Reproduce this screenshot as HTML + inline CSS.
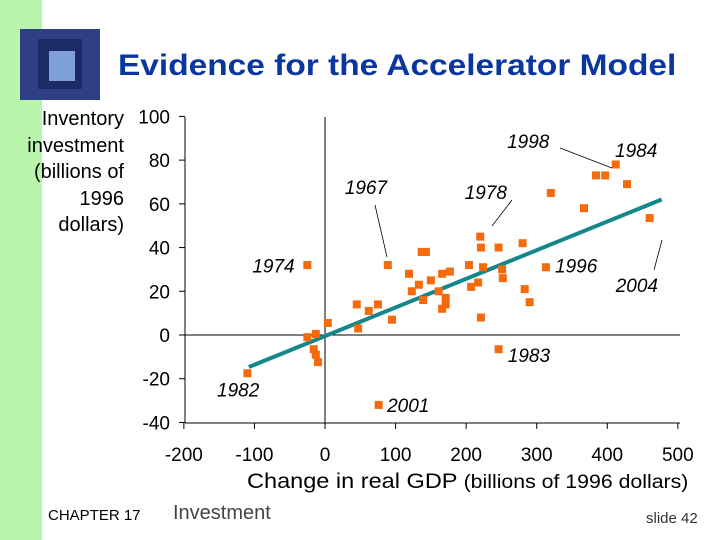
<!DOCTYPE html>
<html><head><meta charset="utf-8"><style>
body{margin:0;width:720px;height:540px;overflow:hidden;background:#fff;font-family:"Liberation Sans",sans-serif;position:relative}
.a{position:absolute}
</style></head><body>
<div class="a" style="left:0;top:0;width:42px;height:540px;background:#b9f5aa"></div>
<div class="a" style="left:20px;top:29px;width:80px;height:71px;background:#2e3f86">
 <div class="a" style="left:18px;top:10px;width:44px;height:50px;background:#1c2a66"></div>
 <div class="a" style="left:29px;top:22px;width:26px;height:30px;background:#7f9fd8"></div>
</div>
<div class="a" style="left:118px;top:49px;font-size:30px;font-weight:bold;color:#0a36a0;white-space:nowrap;transform:scaleX(1.115);transform-origin:left">Evidence for the Accelerator Model</div>
<div class="a" style="left:0;top:106px;width:124px;text-align:right;font-size:20px;line-height:26.5px">Inventory<br>investment<br>(billions of<br>1996<br>dollars)</div>
<div class="a" style="left:247px;top:470px;font-size:21px;white-space:nowrap;transform:scaleX(1.12);transform-origin:left">Change in real GDP <span style="font-size:19px">(billions of 1996 dollars)</span></div>
<div class="a" style="left:48px;top:507px;font-size:15px">CHAPTER 17</div>
<div class="a" style="left:173px;top:502px;font-size:20px;color:#444">Investment</div>
<div class="a" style="left:646px;top:510px;font-size:15px;color:#333">slide 42</div>
<svg class="a" style="left:0;top:0" width="720" height="540" id="ch"></svg>
<script>
const xTicks=[-200,-100,0,100,200,300,400,500];
const yTicks=[100,80,60,40,20,0,-20,-40];
const gdpChange=[-25,89,220,221,137,143,119,204,224,177,166,150,133,123,139,161,171,171,166,217,207,221,45,62,75,95,47,4,-13,-25,-16,-13,-10,-110,246,251,252,280,283,290,313,320,367,384,397,412,428,460,246,76];
const invest=[32,32,45,40,38,38,28,32,31,29,28,25,23,20,16,20,17,14,12,24,22,8,14,11,14,7,3,5.5,0.5,-1,-6.5,-9,-12.4,-17.5,40,30,26,42,21,15,31,65,58,73,73,78,69,53.5,-6.5,-32];
const trendX=[-108,477];
const trendIntercept=-0.5, trendSlope=0.131;
const yearLabels=["1998","1984","1967","1978","1974","1996","2004","1983","1982","2001"];
const yearLabelX=[258,411,28,198,-103,326,412,259,-153,88];
const yearLabelY=[88.7,84.6,67.7,65.4,31.9,31.9,22.9,-9.1,-25,-32];
const X=v=>325+v*0.7057, Y=v=>335+(-v)*2.186;
const s=document.getElementById('ch'),NS='http://www.w3.org/2000/svg';
function mk(t,a){const e=document.createElementNS(NS,t);for(const k in a)e.setAttribute(k,a[k]);s.appendChild(e);return e;}
let e;
e=mk('line',{x1:185,y1:117,x2:185,y2:423,stroke:'#000'});


e=mk('line',{x1:185,y1:423,x2:680,y2:423,stroke:'#000'});


e=mk('line',{x1:X(0),y1:117,x2:X(0),y2:423,stroke:'#000'});


e=mk('line',{x1:185,y1:Y(0),x2:680,y2:Y(0),stroke:'#000'});


xTicks.forEach(v=>{mk('line',{x1:X(v),y1:423,x2:X(v),y2:429,stroke:'#000'});
 e=mk('text',{x:X(v),y:461,'text-anchor':'middle','font-size':19,'font-family':'Liberation Sans'});e.textContent=v;
 
 });
yTicks.forEach(v=>{mk('line',{x1:179,y1:Y(v),x2:185,y2:Y(v),stroke:'#000'});
 e=mk('text',{x:170,y:Y(v)+7,'text-anchor':'end','font-size':19,'font-family':'Liberation Sans'});e.textContent=v;
 
 });
e=mk('line',{x1:X(trendX[0]),y1:Y(trendIntercept+trendSlope*trendX[0]),x2:X(trendX[1]),y2:Y(trendIntercept+trendSlope*trendX[1]),stroke:'#14878a','stroke-width':4});


gdpChange.forEach((v,i)=>{e=mk('rect',{x:X(v)-4,y:Y(invest[i])-4,width:8,height:8,fill:'#f56a0a'});
 
 });
[[560,148,612,168],[375,205,387,257],[512,200,492,226],[662,240,654,270]].forEach(l=>mk('line',{x1:l[0],y1:l[1],x2:l[2],y2:l[3],stroke:'#000','stroke-width':0.8}));
yearLabels.forEach((t,i)=>{e=mk('text',{x:X(yearLabelX[i]),y:Y(yearLabelY[i])+7,'font-size':19,'font-style':'italic','font-family':'Liberation Sans'});e.textContent=t;
 
 });
</script>
</body></html>
